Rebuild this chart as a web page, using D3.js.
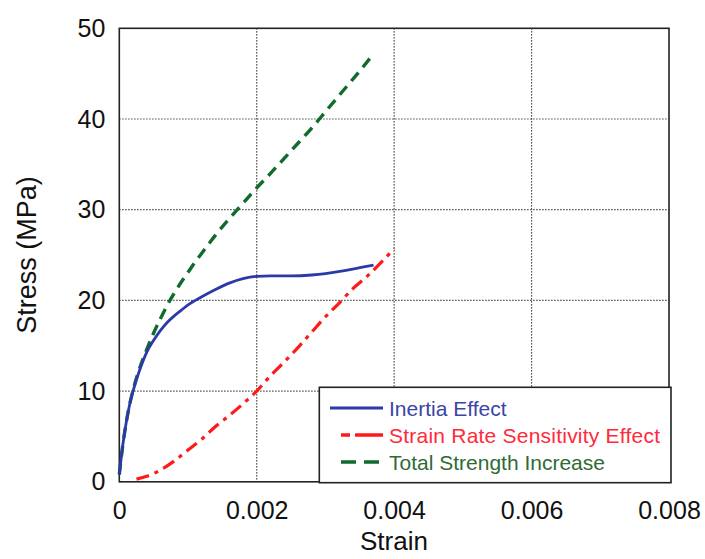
<!DOCTYPE html>
<html><head><meta charset="utf-8">
<script src="https://cdn.jsdelivr.net/npm/d3@7"></script>
<style>body{margin:0;background:#fff}svg{display:block}text{font-family:"Liberation Sans",Arial,sans-serif}</style>
</head><body><svg id="c" width="705" height="559"></svg>
<script>
const xTicks=[0,0.002,0.004,0.006,0.008];
const xTickLabels=["0","0.002","0.004","0.006","0.008"];
const yTicks=[0,10,20,30,40,50];
const yTickLabels=["0","10","20","30","40","50"];
const seriesNames=["Inertia Effect","Strain Rate Sensitivity Effect","Total Strength Increase"];
const inertia=[[0,0.8],[0.00005,4],[0.0001,6.5],[0.00015,8.5],[0.0002,10],[0.0003,12.4],[0.0004,14.3],[0.0005,15.6],[0.0006,16.7],[0.0007,17.6],[0.0008,18.3],[0.0009,18.9],[0.001,19.5],[0.0012,20.4],[0.0014,21.2],[0.0016,21.9],[0.0018,22.4],[0.002,22.65],[0.0022,22.7],[0.0025,22.7],[0.0028,22.8],[0.003,22.95],[0.0033,23.3],[0.0035,23.6],[0.0037,23.9]];
const strainRate=[[0.00025,0.3],[0.0004,0.6],[0.0006,1.3],[0.0008,2.3],[0.001,3.5],[0.0012,4.7],[0.0014,6.1],[0.0016,7.3],[0.0018,8.6],[0.002,10],[0.0022,11.7],[0.0024,13.2],[0.0026,14.8],[0.0028,16.5],[0.003,18.2],[0.0032,19.7],[0.0034,21.3],[0.0036,22.6],[0.0038,24.1],[0.004,25.7]];
const total=[[0,0.8],[0.00005,4],[0.0001,6.5],[0.00015,8.5],[0.0002,10.1],[0.0003,12.6],[0.0004,14.6],[0.0005,16.4],[0.0006,18],[0.0007,19.5],[0.0008,20.8],[0.0009,22],[0.001,23.1],[0.0011,24.2],[0.0012,25.2],[0.0013,26.2],[0.0014,27.2],[0.0016,29],[0.0018,30.7],[0.002,32.4],[0.0022,34],[0.0025,36.5],[0.0028,39],[0.003,40.8],[0.0033,43.5],[0.0035,45.3],[0.00368,47]];

const svg=d3.select("#c");
const L=119.3,R=669,T=28.3,B=481.8;
const x=d3.scaleLinear().domain([0,0.008]).range([L,R]);
const y=d3.scaleLinear().domain([0,50]).range([B,T]);

// grid
const g=svg.append("g");
g.selectAll(".gx").data(xTicks.slice(1,-1)).join("line")
 .attr("x1",d=>x(d)).attr("x2",d=>x(d)).attr("y1",T).attr("y2",B)
 .attr("stroke","#222").attr("stroke-width",1.2).attr("stroke-dasharray","1.2,1.8");
g.selectAll(".gy").data(yTicks.slice(1,-1)).join("line")
 .attr("y1",d=>y(d)).attr("y2",d=>y(d)).attr("x1",L).attr("x2",R)
 .attr("stroke","#222").attr("stroke-width",1.2).attr("stroke-dasharray","1.2,1.8");

// axes via d3
const xAxis=svg.append("g").attr("transform",`translate(0,${B})`)
 .call(d3.axisBottom(x).tickValues(xTicks).tickFormat((d,i)=>xTickLabels[i]).tickSize(0).tickPadding(13));
const yAxis=svg.append("g").attr("transform",`translate(${L},0)`)
 .call(d3.axisLeft(y).tickValues(yTicks).tickFormat((d,i)=>yTickLabels[i]).tickSize(0).tickPadding(14));
[xAxis,yAxis].forEach(a=>{a.select(".domain").remove();a.selectAll("text").attr("font-size",25).attr("fill","#111").style("font-family","Liberation Sans, Arial, sans-serif");});
xAxis.selectAll("text").attr("dy","0.95em");

// frame
svg.append("rect").attr("x",L).attr("y",T).attr("width",R-L).attr("height",B-T)
 .attr("fill","none").attr("stroke","#222").attr("stroke-width",1.6);

const line=d3.line().x(d=>x(d[0])).y(d=>y(d[1])).curve(d3.curveMonotoneX);
svg.append("path").datum(strainRate).attr("d",line).attr("fill","none")
 .attr("stroke","#ff1a1a").attr("stroke-width",3.2).attr("stroke-dasharray","13,6,4,6");
svg.append("path").datum(total).attr("d",line).attr("fill","none")
 .attr("stroke","#116b2c").attr("stroke-width",3.4).attr("stroke-dasharray","11,7");
svg.append("path").datum(inertia).attr("d",line).attr("fill","none")
 .attr("stroke","#2b3aa8").attr("stroke-width",2.8);

// legend
const lg=svg.append("g");
lg.append("rect").attr("x",319.3).attr("y",387.3).attr("width",351.7).attr("height",95.4)
 .attr("fill","#fff").attr("stroke","#222").attr("stroke-width",1.6);
const rows=[{c:"#2b3aa8",t:"#3a45a5",da:null,y:408},{c:"#ff1a1a",t:"#ff2a3a",da:"9,5,28,0",y:435},{c:"#116b2c",t:"#2e6b35",da:"15,8",y:462}];
rows.forEach((r,i)=>{
  const ln=lg.append("line").attr("x1",i==0?330:341).attr("x2",383).attr("y1",r.y).attr("y2",r.y)
   .attr("stroke",r.c).attr("stroke-width",i==0?3:3.4);
  if(r.da) ln.attr("stroke-dasharray",r.da);
  lg.append("text").attr("x",389).attr("y",r.y+7.5).attr("font-size",21).attr("fill",r.t)
   .attr("textLength",i==1?271:null).text(seriesNames[i]);
});

// titles
svg.append("text").attr("x",394).attr("y",550).attr("text-anchor","middle").attr("font-size",26).attr("fill","#111").text("Strain");
svg.append("text").attr("transform","translate(36,255) rotate(-90)").attr("text-anchor","middle").attr("font-size",27).attr("fill","#111").text("Stress (MPa)");
</script></body></html>
